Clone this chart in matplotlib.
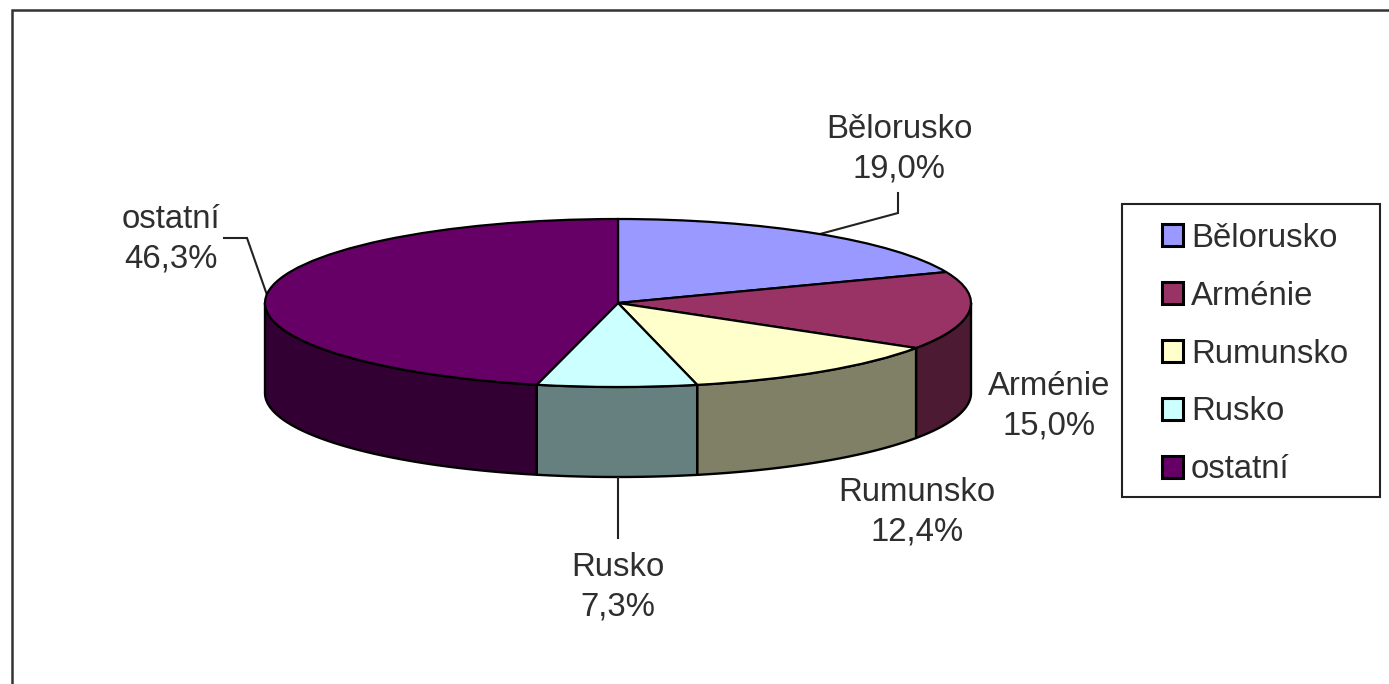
import numpy as np
import matplotlib
matplotlib.use("Agg")
import matplotlib.pyplot as plt
from matplotlib.patches import Polygon

# Data
categories = ["Bělorusko", "Arménie", "Rumunsko", "Rusko", "ostatní"]
shares = [19.0, 15.0, 12.4, 7.3, 46.3]
share_labels = ["19,0%", "15,0%", "12,4%", "7,3%", "46,3%"]

# Style
top_colors = ["#9999FF", "#993366", "#FFFFCC", "#CCFFFF", "#660066"]
side_colors = ["#4C4C80", "#4C1A33", "#808066", "#668080", "#330033"]
W, H = 1389, 684
CX, CY, RX, RY, DEPTH = 618, 303, 353, 84, 90
FS = 23.7
TXT = "#2e2e2e"

plt.rcParams["font.family"] = ["Liberation Sans", "DejaVu Sans"]
fig = plt.figure(figsize=(W / 100, H / 100), dpi=100, facecolor="white")

# Base axes measured in pixels
ax = fig.add_axes([0, 0, 1, 1])
ax.set_xlim(0, W)
ax.set_ylim(H, 0)
ax.axis("off")

# Outer frame (only left and top are visible)
ax.plot([12, 12, W], [H, 10, 10], color="#333333", lw=1.8, solid_joinstyle="miter", zorder=1)

# Side walls computed from the shares (clockwise from 12 o'clock)
total = sum(shares)
edges = 90 - 360 * np.cumsum([0] + shares) / total
for i in range(len(shares)):
    a1, a2 = edges[i], edges[i + 1]      # a1 > a2
    lo = max(a2, -180)
    hi = min(a1, 0)
    if hi <= lo:
        continue
    t = np.radians(np.linspace(hi, lo, 80))
    x = CX + RX * np.cos(t)
    y = CY - RY * np.sin(t)
    pts = np.r_[np.c_[x, y], np.c_[x[::-1], y[::-1] + DEPTH]]
    ax.add_patch(Polygon(pts, closed=True, facecolor=side_colors[i], edgecolor="black",
                         lw=1.7, joinstyle="round", zorder=2))

# Top face: a real pie stretched over the ellipse's bounding box
pie_ax = fig.add_axes([(CX - RX) / W, 1 - (CY + RY) / H, 2 * RX / W, 2 * RY / H])
pie_ax.patch.set_alpha(0)
wedges, _ = pie_ax.pie(shares, colors=top_colors, startangle=90, counterclock=False,
                       radius=1, wedgeprops=dict(edgecolor="black", linewidth=1.6))
pie_ax.set_aspect("auto")
pie_ax.set_xlim(-1, 1)
pie_ax.set_ylim(-1, 1)
for w in wedges:
    w.set_clip_on(False)

# Data labels
label_pos = [(899, 149), (1049, 406), (917, 512), (618, 587), (171, 239)]
for name, pct, (lx, ly) in zip(categories, share_labels, label_pos):
    ax.text(lx, ly, f"{name}\n{pct}", ha="center", va="center", fontsize=FS,
            color=TXT, linespacing=1.35, zorder=5)

# Leader lines
for xs, ys in [([898, 898, 820], [193, 213, 234]),
               ([618, 618], [478, 538]),
               ([224, 247, 267], [238, 238, 295])]:
    ax.plot(xs, ys, color="#222222", lw=1.5, zorder=4, solid_joinstyle="miter")

# Legend
ax.add_patch(plt.Rectangle((1122, 204), 258, 293, facecolor="white", edgecolor="#222222", lw=1.5, zorder=3))
leg = ax.legend(wedges, categories, loc="center left", bbox_to_anchor=(1152 / W, 1 - 354 / H),
                bbox_transform=fig.transFigure, frameon=False, fontsize=FS, handlelength=0.64,
                handleheight=0.64, handletextpad=0.24, labelspacing=0.82, borderpad=0.3, borderaxespad=0)
leg.set_zorder(6)
for t in leg.get_texts():
    t.set_color(TXT)
for h in leg.get_patches():
    h.set_edgecolor("black")
    h.set_linewidth(2.2)

fig.savefig("out.png", dpi=100)
